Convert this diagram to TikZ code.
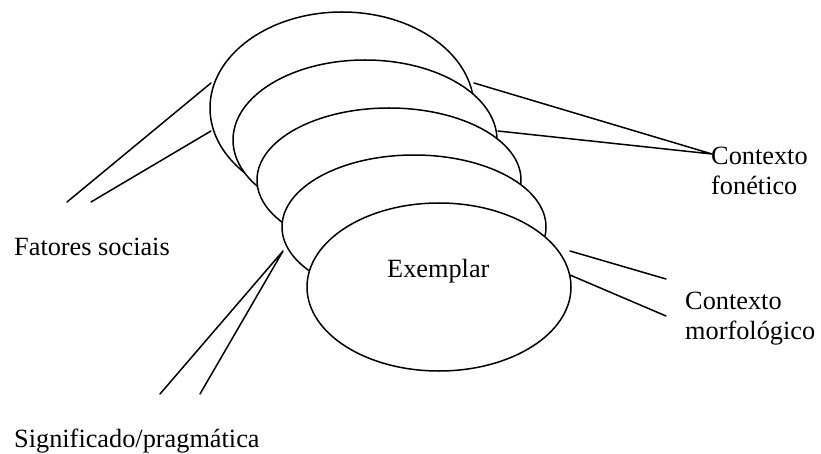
\documentclass[tikz,border=0pt]{standalone}
\usepackage{fontspec}
\setmainfont{Liberation Serif}
\usetikzlibrary{shapes.geometric}
\tikzset{
  layer/.style={ellipse,draw,fill=white,line width=1.5pt,inner sep=0pt,minimum width=264pt},
  link/.style={line width=1.5pt},
  tag/.style={font=\fontsize{26.3}{30}\selectfont,inner sep=0pt,anchor=base west,align=left}
}

\begin{document}
\begin{tikzpicture}[x=1pt,y=-1pt,line cap=round,line join=round]
  \useasboundingbox (0,0) rectangle (821,454);
  % Stacked exemplar clouds, drawn back to front.
  \foreach \i/\cx/\cy/\ry in {1/342/108/96,2/365/140/80,3/389/180/72,4/414/227/72,5/439/287/84}
    \node[layer,minimum height=2*\ry pt] (e\i) at (\cx,\cy) {};

  \node[tag] (exemplar) at (387,277) {Exemplar};
  \node[tag] (sociais)  at (14,255)  {Fatores sociais};
  \node[tag] (signif)   at (14,447)  {Significado/pragmática};
  % two-line labels: base is the last line
  \node[tag] (fonetico) at (711,195) {Contexto\\fonético};
  \node[tag] (morfo)    at (685,339) {Contexto\\morfológico};

  % Ends of the connectors.
  \coordinate (s1) at (211,83);
  \coordinate (s2) at (211,131);
  \coordinate (sa) at (67,202);
  \coordinate (sb) at (91,202);
  \coordinate (g0) at (283,251);
  \coordinate (ga) at (160,394);
  \coordinate (gb) at (200,394);
  \coordinate (f1) at (474,83);
  \coordinate (f2) at (498,131);
  \coordinate (f0) at (712,154);
  \coordinate (m1) at (570,251);
  \coordinate (m2) at (570,275);
  \coordinate (ma) at (666,279);
  \coordinate (mb) at (666,316);

  \draw[link] (s1)--(sa) (s2)--(sb)
        (g0)--(ga) (g0)--(gb)
        (f1)--(f0) (f2)--(f0)
        (m1)--(ma) (m2)--(mb);
\end{tikzpicture}
\end{document}
